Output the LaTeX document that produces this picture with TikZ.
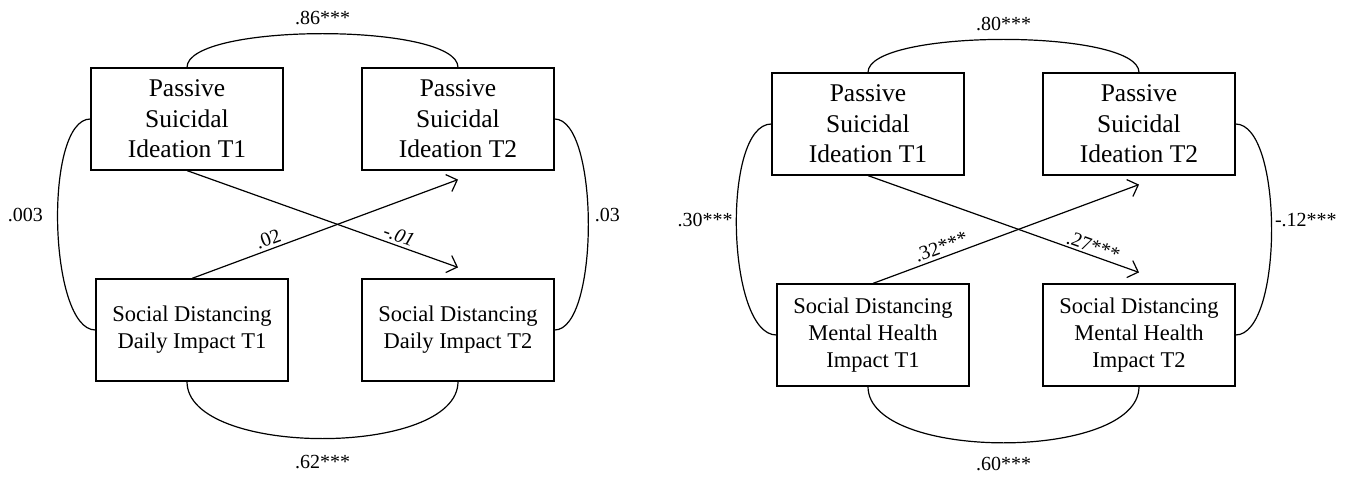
\documentclass[tikz,border=0pt]{standalone}
\usepackage{fontspec}
\setmainfont{Liberation Serif}
\usetikzlibrary{arrows.meta}

\tikzset{
  var/.style={draw, line width=1.2pt, minimum width=192pt, minimum height=102pt,
    inner sep=0pt, align=center},
  psi/.style={var, font=\fontsize{25.5}{30.5}\selectfont},
  sdi/.style={var, font=\fontsize{22.5}{27}\selectfont},
  coef/.style={font=\fontsize{20}{24}\selectfont, inner sep=2pt},
  reg/.style={line width=1.2pt, -{Straight Barb[length=9pt,width=18pt]}},
  cov/.style={line width=1.2pt},
}

\begin{document}
\begin{tikzpicture}[x=1pt,y=-1pt]
\useasboundingbox (0,0) rectangle (1349,481);

% daily impact model
\node[psi] (psiA) at (187,119) {Passive\\Suicidal\\Ideation T1};
\node[psi] (psiB) at (458,119) {Passive\\Suicidal\\Ideation T2};
\node[sdi] (sdA) at (192,330) {Social Distancing\\Daily Impact T1};
\node[sdi] (sdB) at (458,330) {Social Distancing\\Daily Impact T2};
% stability and covariances
\draw[cov] (psiA.north) .. controls +(0,-45) and +(0,-45) .. (psiB.north)
  node[coef, midway, above=6pt] {.86***};
\draw[cov] ([xshift=-5pt]sdA.south) .. controls +(0,76) and +(0,76) .. (sdB.south)
  node[coef, midway, below=14pt] {.62***};
\draw[cov] (psiA.west) .. controls +(-47,0) and +(-47,0) .. (sdA.west)
  node[coef, pos=0.47, left=12pt] {.003};
\draw[cov] (psiB.east) .. controls +(45,0) and +(45,0) .. (sdB.east)
  node[coef, pos=0.47, right=4pt] {.03};
% cross-lagged paths
\draw[reg] (psiA.south) -- ([yshift=11pt]sdB.north)
  node[coef, pos=0.77, sloped, above=1pt] {\textit{-.01}};
\draw[reg] (sdA.north) -- ([yshift=-9pt]psiB.south)
  node[coef, pos=0.3, sloped, above=1pt] {.02};

% mental health impact model
\begin{scope}[shift={(681,5)}]
\node[psi] (mpsiA) at (187,119) {Passive\\Suicidal\\Ideation T1};
\node[psi] (mpsiB) at (458,119) {Passive\\Suicidal\\Ideation T2};
\node[sdi] (msdA) at (192,330) {Social Distancing\\Mental Health\\Impact T1};
\node[sdi] (msdB) at (458,330) {Social Distancing\\Mental Health\\Impact T2};
\draw[cov] (mpsiA.north) .. controls +(0,-44) and +(0,-44) .. (mpsiB.north)
  node[coef, midway, above=6pt] {.80***};
\draw[cov] ([xshift=-5pt]msdA.south) .. controls +(0,75) and +(0,75) .. (msdB.south)
  node[coef, midway, below=12pt] {.60***};
\draw[cov] (mpsiA.west) .. controls +(-50,0) and +(-50,0) .. (msdA.west)
  node[coef, pos=0.47, left=1pt] {.30***};
\draw[cov] (mpsiB.east) .. controls +(48,0) and +(48,0) .. (msdB.east)
  node[coef, pos=0.47, right=1pt] {-.12***};
\draw[reg] (mpsiA.south) -- ([yshift=11pt]msdB.north)
  node[coef, pos=0.82, sloped, above=0pt] {.27***};
\draw[reg] (msdA.north) -- ([yshift=-9pt]mpsiB.south)
  node[coef, pos=0.27, sloped, above=1pt] {.32***};
\end{scope}
\end{tikzpicture}
\end{document}
